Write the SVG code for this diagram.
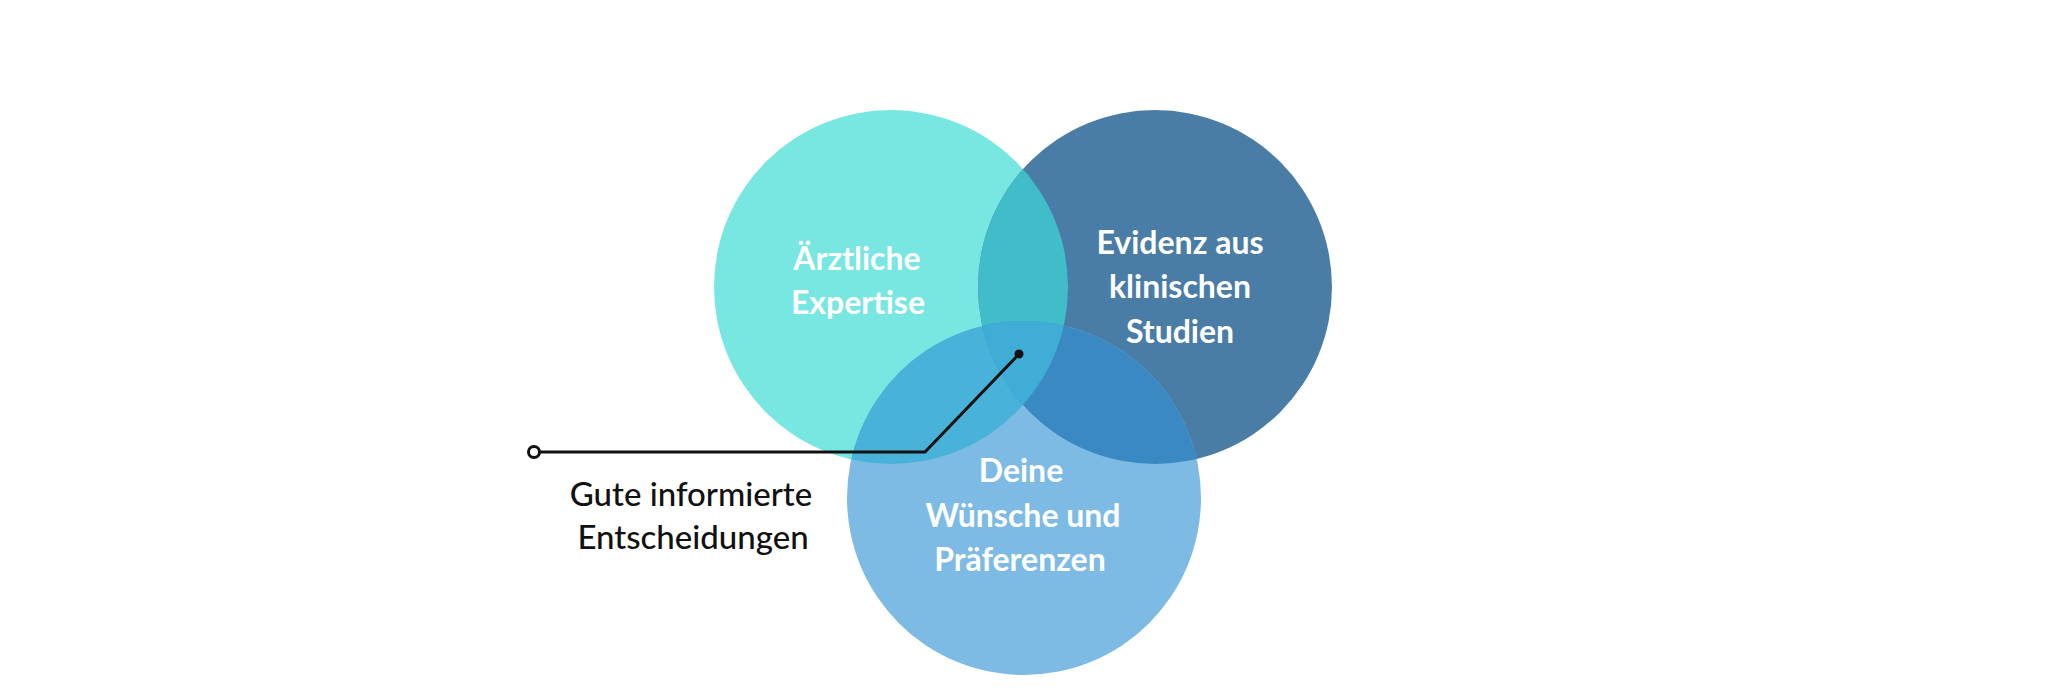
<svg xmlns="http://www.w3.org/2000/svg" width="2048" height="700" viewBox="0 0 2048 700">
<style>
.lbl{font-family:Lato,"Open Sans","Liberation Sans",sans-serif;font-size:32px;font-weight:700;fill:#ffffff;text-anchor:middle}
.blk{font-family:Lato,"Open Sans","Liberation Sans",sans-serif;font-size:33px;font-weight:500;fill:#111111;text-anchor:middle}
</style>
<defs>
<clipPath id="cA"><circle cx="891" cy="287" r="177"/></clipPath>
<clipPath id="cB"><circle cx="1155" cy="287" r="177"/></clipPath>
<clipPath id="cC"><circle cx="1024" cy="498" r="177"/></clipPath>
</defs>
<rect width="2048" height="700" fill="#ffffff"/>
<g id="circle-expertise">
<circle cx="891" cy="287" r="177" fill="#78E6E1"/>
</g>
<g id="circle-evidenz">
<circle cx="1155" cy="287" r="177" fill="#4A7DA6"/>
</g>
<g id="circle-wuensche">
<circle cx="1024" cy="498" r="177" fill="#7DBBE4"/>
</g>
<g id="overlaps">
<circle cx="1155" cy="287" r="177" fill="#40BDC8" clip-path="url(#cA)"/>
<circle cx="1024" cy="498" r="177" fill="#48B2D9" clip-path="url(#cA)"/>
<circle cx="1024" cy="498" r="177" fill="#3A89C3" clip-path="url(#cB)"/>
<g clip-path="url(#cA)"><circle cx="1024" cy="498" r="177" fill="#40ADD6" clip-path="url(#cB)"/></g>
</g>
<g id="text-expertise">
<text class="lbl" x="857" y="270">Ärztliche</text>
<text class="lbl" x="858" y="314">Expertise</text>
</g>
<g id="text-evidenz">
<text class="lbl" x="1180" y="254">Evidenz aus</text>
<text class="lbl" x="1180" y="298">klinischen</text>
<text class="lbl" x="1180" y="343">Studien</text>
</g>
<g id="text-wuensche">
<text class="lbl" x="1021" y="482">Deine</text>
<text class="lbl" x="1023" y="527">Wünsche und</text>
<text class="lbl" x="1020" y="571">Präferenzen</text>
</g>
<g id="connectors">
<polyline points="540,452 925,452 1019,354" fill="none" stroke="#111111" stroke-width="3"/>
<circle cx="534" cy="452" r="5.5" fill="#ffffff" stroke="#111111" stroke-width="3"/>
<circle cx="1019" cy="354" r="4.5" fill="#111111"/>
</g>
<g id="text-result">
<text class="blk" x="691" y="506">Gute informierte</text>
<text class="blk" x="693" y="549">Entscheidungen</text>
</g>
</svg>
